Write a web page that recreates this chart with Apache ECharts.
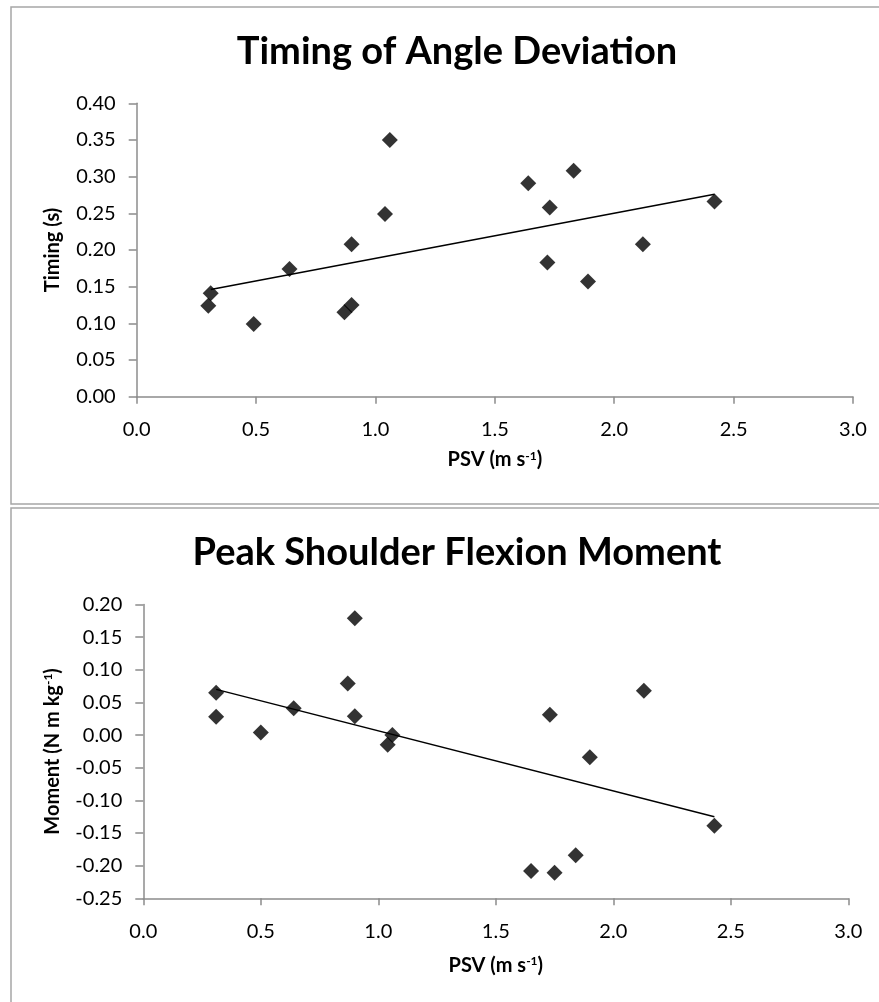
<!DOCTYPE html>
<html>
<head>
<meta charset="utf-8">
<style>html,body{margin:0;padding:0;background:#fff}#c{width:879px;height:1002px}</style>
<script src="https://cdn.jsdelivr.net/npm/echarts@6/dist/echarts.min.js"></script>
</head>
<body>
<div id="c"></div>
<script>
// Top chart: Timing of Angle Deviation
var timingPSV = [0.30, 0.31, 0.49, 0.64, 0.87, 0.90, 0.90, 1.04, 1.06, 1.64, 1.72, 1.73, 1.83, 1.89, 2.12, 2.42];
var timingVal = [0.124, 0.141, 0.099, 0.174, 0.115, 0.125, 0.208, 0.249, 0.350, 0.291, 0.183, 0.258, 0.308, 0.157, 0.208, 0.266];
var timingTrend = [[0.31, 0.146], [2.42, 0.276]];
// Bottom chart: Peak Shoulder Flexion Moment
var momentPSV = [0.31, 0.31, 0.50, 0.64, 0.87, 0.90, 0.90, 1.04, 1.06, 1.65, 1.73, 1.75, 1.84, 1.90, 2.13, 2.43];
var momentVal = [0.065, 0.028, 0.004, 0.041, 0.079, 0.179, 0.029, -0.015, 0.000, -0.208, 0.031, -0.211, -0.184, -0.034, 0.068, -0.139];
var momentTrend = [[0.31, 0.070], [2.43, -0.125]];
// Axis ranges / ticks
var xRange = [0, 3, 0.5];
var timingRange = [0, 0.40, 0.05];
var momentRange = [-0.25, 0.20, 0.05];

function zip(xs, ys) { return xs.map(function (x, i) { return [x, ys[i]]; }); }

var FONT = 'Lato, "Open Sans", sans-serif';
var axisGray = '#8c8c8c';

function xAxisDef(gi, gap) {
  return {
    type: 'value', gridIndex: gi, min: xRange[0], max: xRange[1], interval: xRange[2],
    axisLine: { show: true, onZero: false, lineStyle: { color: axisGray, width: 1.5 } },
    axisTick: { show: true, length: 7, lineStyle: { color: axisGray, width: 1.5 } },
    splitLine: { show: false },
    axisLabel: { color: '#000', fontFamily: FONT, fontSize: 20, margin: 23,
      formatter: function (v) { return v.toFixed(1); } },
    name: '{b|PSV (m s}{s|-1}{b|)}',
    nameLocation: 'middle', nameGap: gap,
    nameTextStyle: {
      rich: {
        b: { fontFamily: FONT, fontWeight: 'bold', fontSize: 20, color: '#000' },
        s: { fontFamily: FONT, fontWeight: 'bold', fontSize: 12, color: '#000', verticalAlign: 'top', padding: [0, 0, 8, 0] }
      }
    }
  };
}
function yAxisDef(gi, r, nameStr, gap) {
  return {
    type: 'value', gridIndex: gi, min: r[0], max: r[1], interval: r[2],
    axisLine: { show: true, onZero: false, lineStyle: { color: axisGray, width: 1.5 } },
    axisTick: { show: true, length: 8, lineStyle: { color: axisGray, width: 1.5 } },
    splitLine: { show: false },
    axisLabel: { color: '#000', fontFamily: FONT, fontSize: 20, margin: 21,
      formatter: function (v) { return v.toFixed(2); } },
    name: nameStr, nameLocation: 'middle', nameRotate: 90, nameGap: gap,
    nameTextStyle: {
      rich: {
        b: { fontFamily: FONT, fontWeight: 'bold', fontSize: 20, color: '#000' },
        s: { fontFamily: FONT, fontWeight: 'bold', fontSize: 12, color: '#000', verticalAlign: 'top', padding: [0, 0, 8, 0] }
      }
    }
  };
}

var chart = echarts.init(document.getElementById('c'), null, { renderer: 'canvas', width: 879, height: 1002 });
chart.setOption({
  animation: false,
  backgroundColor: '#fff',
  graphic: [
    { type: 'rect', shape: { x: 11, y: 7, width: 900, height: 497 }, style: { fill: 'none', stroke: '#a6a6a6', lineWidth: 1.5 }, z: -1 },
    { type: 'rect', shape: { x: 11, y: 508, width: 900, height: 600 }, style: { fill: 'none', stroke: '#a6a6a6', lineWidth: 1.5 }, z: -1 }
  ],
  title: [
    { text: 'Timing of Angle Deviation', left: 452, textAlign: 'center', top: 28,
      textStyle: { fontFamily: FONT, fontWeight: 'bold', fontSize: 38, color: '#000' } },
    { text: 'Peak Shoulder Flexion Moment', left: 452, textAlign: 'center', top: 529,
      textStyle: { fontFamily: FONT, fontWeight: 'bold', fontSize: 38, color: '#000' } }
  ],
  grid: [
    { left: 136.7, right: 26, top: 103.3, height: 293.4 },
    { left: 143.3, right: 30.7, top: 604.5, height: 293.8 }
  ],
  xAxis: [xAxisDef(0, 53), xAxisDef(1, 57)],
  yAxis: [
    yAxisDef(0, timingRange, '{b|Timing (s)}', 74),
    yAxisDef(1, momentRange, '{b|Moment (N m kg}{s|-1}{b|)}', 81)
  ],
  series: [
    { type: 'line', xAxisIndex: 0, yAxisIndex: 0, data: timingTrend, showSymbol: false, symbol: 'none',
      lineStyle: { color: '#000', width: 1.5 }, z: 2 },
    { type: 'scatter', xAxisIndex: 0, yAxisIndex: 0, data: zip(timingPSV, timingVal), symbol: 'diamond', symbolSize: 16,
      itemStyle: { color: '#000' }, z: 3 },
    { type: 'line', xAxisIndex: 1, yAxisIndex: 1, data: momentTrend, showSymbol: false, symbol: 'none',
      lineStyle: { color: '#000', width: 1.5 }, z: 2 },
    { type: 'scatter', xAxisIndex: 1, yAxisIndex: 1, data: zip(momentPSV, momentVal), symbol: 'diamond', symbolSize: 16,
      itemStyle: { color: '#000' }, z: 3 }
  ]
});
</script>
</body>
</html>
